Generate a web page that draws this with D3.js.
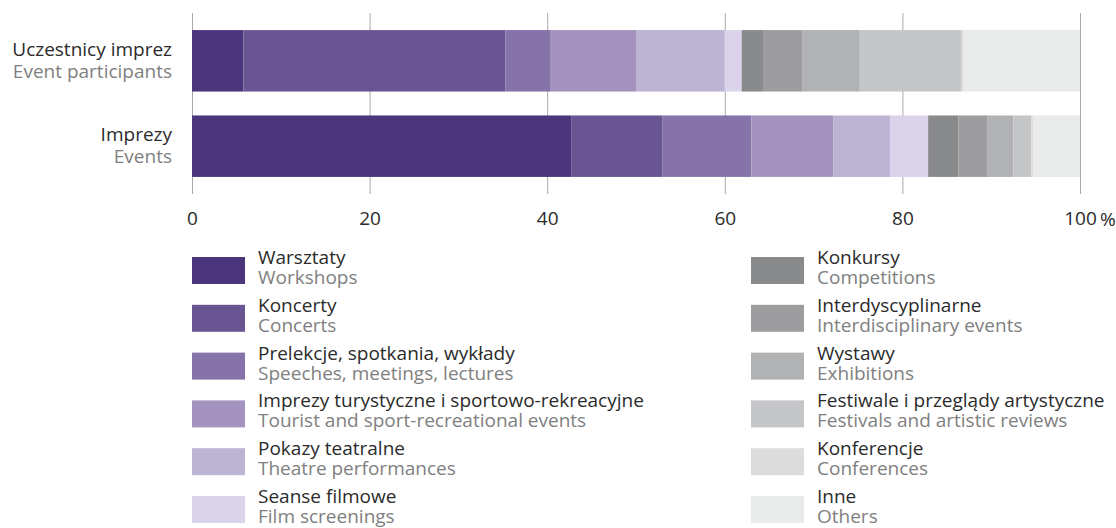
<!DOCTYPE html>
<html>
<head>
<meta charset="utf-8">
<script src="https://cdn.jsdelivr.net/npm/d3@7"></script>
<style>
  html, body { margin: 0; padding: 0; background: #fff; }
  svg { display: block; font-family: "Open Sans", "Noto Sans", sans-serif; }
</style>
</head>
<body>
<svg id="chart" width="1116" height="528"></svg>
<script>
// Row labels (Polish / English)
const rowsPL = ["Uczestnicy imprez", "Imprezy"];
const rowsEN = ["Event participants", "Events"];

// Event types (Polish / English), in stacking order
const typesPL = [
  "Warsztaty", "Koncerty", "Prelekcje, spotkania, wykłady",
  "Imprezy turystyczne i sportowo-rekreacyjne", "Pokazy teatralne", "Seanse filmowe",
  "Konkursy", "Interdyscyplinarne", "Wystawy",
  "Festiwale i przeglądy artystyczne", "Konferencje", "Inne"
];
const typesEN = [
  "Workshops", "Concerts", "Speeches, meetings, lectures",
  "Tourist and sport-recreational events", "Theatre performances", "Film screenings",
  "Competitions", "Interdisciplinary events", "Exhibitions",
  "Festivals and artistic reviews", "Conferences", "Others"
];

// Shares in % for each row, same order as the types
const participantsShare = [5.8, 29.5, 5.1, 9.6, 10.0, 1.9, 2.4, 4.4, 6.5, 11.4, 0.3, 13.1];
const eventsShare       = [42.7, 10.3, 10.0, 9.2, 6.4, 4.3, 3.4, 3.3, 2.9, 2.0, 0.2, 5.3];

const typeColors = [
  "#4b367c", "#6a5593", "#8573a9", "#a393be", "#bdb3d3", "#dbd3ea",
  "#898a8c", "#9d9d9f", "#b1b2b4", "#c5c6c8", "#dcdcdc", "#e9eaea"
];

const xTicks = [0, 20, 40, 60, 80, 100];

const FS = 19;
const DARK = "#2b2b2b", GREY = "#808080";

const svg = d3.select("#chart");

const x = d3.scaleLinear().domain([0, 100]).range([192, 1080]);
const y = d3.scaleBand().domain(rowsPL).range([13, 194]).paddingInner(0.28).paddingOuter(0.2);
const color = d3.scaleOrdinal().domain(typesPL).range(typeColors);

// Gridlines
svg.append("g")
  .selectAll("line")
  .data(xTicks)
  .join("line")
  .attr("x1", d => x(d) + 0.5).attr("x2", d => x(d) + 0.5)
  .attr("y1", 13).attr("y2", 194)
  .attr("stroke", "#a9a9a9").attr("stroke-width", 1);

// Stacked bars
const table = rowsPL.map((r, i) => {
  const vals = i === 0 ? participantsShare : eventsShare;
  const o = { row: r };
  typesPL.forEach((t, j) => { o[t] = vals[j]; });
  return o;
});
const stacked = d3.stack().keys(typesPL)(table);

svg.append("g")
  .selectAll("g")
  .data(stacked)
  .join("g")
  .attr("fill", d => color(d.key))
  .selectAll("rect")
  .data(d => d)
  .join("rect")
  .attr("x", d => x(d[0]))
  .attr("width", d => x(d[1]) - x(d[0]))
  .attr("y", d => y(d.data.row))
  .attr("height", y.bandwidth());

// X axis labels
const xAxis = svg.append("g")
  .attr("transform", "translate(0,194)")
  .call(d3.axisBottom(x).tickValues(xTicks).tickSize(0).tickPadding(18).tickFormat(d3.format("d")));
xAxis.select(".domain").remove();
xAxis.selectAll("text")
  .attr("font-size", FS).attr("fill", DARK)
  .attr("font-family", "\"Open Sans\", sans-serif");
svg.append("text")
  .attr("x", x(100) + 20).attr("y", 226)
  .attr("font-size", FS).attr("fill", DARK)
  .text("%");

// Row labels
const rowLab = svg.append("g").attr("text-anchor", "end");
rowsPL.forEach((r, i) => {
  const top = y(r);
  rowLab.append("text").attr("x", 172).attr("y", top + 26)
    .attr("font-size", FS).attr("fill", DARK).text(r);
  rowLab.append("text").attr("x", 172).attr("y", top + 48)
    .attr("font-size", FS).attr("fill", GREY).text(rowsEN[i]);
});

// Legend: two columns of six
const legend = svg.append("g");
typesPL.forEach((t, i) => {
  const col = Math.floor(i / 6), row = i % 6;
  const sx = col === 0 ? 192 : 751;
  const sy = 257 + row * 47.8;
  const g = legend.append("g").attr("transform", `translate(${sx},${sy})`);
  g.append("rect").attr("width", 53).attr("height", 27).attr("fill", color(t));
  g.append("text").attr("x", 66).attr("y", 7)
    .attr("font-size", FS).attr("fill", DARK).text(t);
  g.append("text").attr("x", 66).attr("y", 27)
    .attr("font-size", FS).attr("fill", GREY).text(typesEN[i]);
});
</script>
</body>
</html>
